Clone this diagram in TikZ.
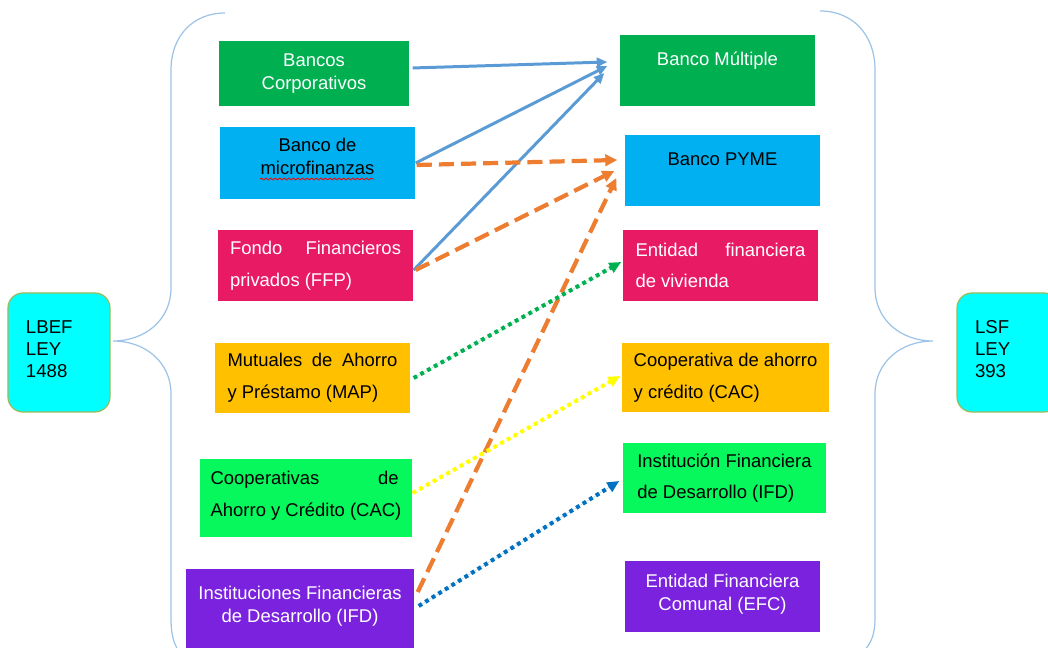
\documentclass[tikz,border=0pt]{standalone}
\usepackage{fontspec}
\setmainfont{Liberation Sans}
\usepackage{xcolor}
\usepackage{tikz}
\usetikzlibrary{shapes,positioning,arrows.meta,decorations.pathmorphing}
\definecolor{cverde}{HTML}{00B050}
\definecolor{cceleste}{HTML}{00B0F0}
\definecolor{crosa}{HTML}{E91A64}
\definecolor{cnaranja}{HTML}{FFC000}
\definecolor{cverdeclaro}{HTML}{06F85C}
\definecolor{cmorado}{HTML}{7B22DE}
\definecolor{ccian}{HTML}{00FFFF}
\definecolor{cflecha}{HTML}{5B9BD5}
\definecolor{cguion}{HTML}{ED7D31}
\definecolor{cazul}{HTML}{0070C0}
\definecolor{camarillo}{HTML}{FFFF00}
\definecolor{cllave}{HTML}{9DC3E6}
\definecolor{cborde}{HTML}{9BBB59}
\tikzset{blk/.style={rectangle,inner sep=0pt,minimum height=0.71cm,minimum width=1.95cm,font=\fontsize{5.25}{6.5}\selectfont,align=center}}
\tikzset{jst/.style={blk,align=left,font=\fontsize{5.25}{9}\selectfont}}
\tikzset{ley/.style={rectangle,rounded corners=0.15cm,draw=cborde,line width=0.35pt,fill=ccian,inner sep=0pt,minimum width=1.02cm,minimum height=1.19cm,text width=0.66cm,align=left,font=\fontsize{5.3}{6.3}\selectfont}}
\tikzset{llave/.style={draw=cllave,line width=0.35pt}}
\tikzset{ar1/.style={draw=cflecha,line width=0.85pt,-{Triangle[length=3pt,width=2.6pt]}}}
\tikzset{ar2/.style={draw=cguion,line width=1.2pt,dash pattern=on 4.3pt off 2pt,-{Triangle[length=3.4pt,width=3.2pt]}}}
\tikzset{ar3/.style={line width=1.15pt,dash pattern=on 1.1pt off 1.1pt,-{Triangle[length=3.4pt,width=3pt]}}}

\begin{document}
\begin{tikzpicture}
    \useasboundingbox (0,0) rectangle (10.48,-6.48);

    % llaves
    \path[llave] (2.25,-0.13) .. controls (1.93,-0.13) and (1.71,-0.36) .. (1.71,-0.70) -- (1.71,-2.88)
        .. controls (1.71,-3.20) and (1.45,-3.41) .. (1.13,-3.41)
        .. controls (1.45,-3.41) and (1.71,-3.62) .. (1.71,-3.94) -- (1.71,-6.18)
        .. controls (1.71,-6.40) and (1.76,-6.50) .. (1.84,-6.56);
    \path[llave] (8.20,-0.11) .. controls (8.53,-0.11) and (8.75,-0.35) .. (8.75,-0.70) -- (8.75,-2.88)
        .. controls (8.75,-3.20) and (9.01,-3.41) .. (9.33,-3.41)
        .. controls (9.01,-3.41) and (8.75,-3.62) .. (8.75,-3.94) -- (8.75,-6.18)
        .. controls (8.75,-6.36) and (8.70,-6.46) .. (8.62,-6.52);

    % leyes
    \node[ley] (lbef) at (0.59,-3.525) {LBEF\\LEY\\1488\\[-4.3pt]~};
    \node[ley] (lsf) at (10.08,-3.525) {LSF\\LEY\\393\\[-4.3pt]~};

    % entidades LBEF
    \node[blk,fill=cverde,text=white,minimum width=1.90cm,minimum height=0.65cm] (bcorp) at (3.14,-0.735) {Bancos\\Corporativos};
    \node[blk,fill=cceleste,minimum height=0.72cm] (bmicro) at (3.175,-1.63) {Banco de\\microfinanzas\\[-2.5pt]~};
    \node[jst,fill=crosa,text=white] (ffp) at (3.155,-2.655) {\makebox[1.71cm][s]{Fondo Financieros}\\privados (FFP)};
    \node[jst,fill=cnaranja,minimum height=0.70cm] (map) at (3.125,-3.78) {\makebox[1.70cm][s]{Mutuales de Ahorro}\\y Préstamo (MAP)};
    \node[jst,fill=cverdeclaro,minimum width=2.12cm,minimum height=0.78cm] (cac) at (3.06,-4.98) {\makebox[1.88cm][s]{Cooperativas de}\\Ahorro y Crédito (CAC)\\[-6.6pt]~};
    \node[blk,fill=cmorado,text=white,minimum width=2.28cm,minimum height=0.81cm] (ifd) at (3.00,-6.095) {Instituciones Financieras\\de Desarrollo (IFD)\\[-3.7pt]~};
    \draw[red,line width=0.25pt,decorate,decoration={snake,amplitude=0.25pt,segment length=1.3pt}] (2.60,-1.79) -- (3.74,-1.79);

    % entidades LSF
    \node[blk,fill=cverde,text=white] (bmult) at (7.175,-0.705) {Banco Múltiple\\~};
    \node[blk,fill=cceleste] (bpyme) at (7.225,-1.705) {Banco PYME\\~};
    \node[jst,fill=crosa,text=white] (efv) at (7.205,-2.655) {\makebox[1.70cm][s]{Entidad financiera}\\de vivienda};
    \node[jst,fill=cnaranja,minimum width=2.07cm,minimum height=0.69cm] (cacr) at (7.255,-3.775) {Cooperativa de ahorro\\y crédito (CAC)};
    \node[jst,fill=cverdeclaro,minimum width=2.03cm,minimum height=0.70cm] (ifdr) at (7.245,-4.78) {Institución Financiera\\de Desarrollo (IFD)};
    \node[blk,fill=cmorado,text=white] (efc) at (7.225,-5.965) {Entidad Financiera\\Comunal (EFC)\\[-4.2pt]~};

    % conversiones
    \draw[ar1] ([xshift=0.03cm,yshift=0.055cm]bcorp.east) to ([xshift=-0.12cm,yshift=0.085cm]bmult.west);
    \draw[ar1] (bmicro.east) to ([xshift=-0.12cm,yshift=0.045cm]bmult.west);
    \draw[ar1] ([yshift=-0.045cm]ffp.east) to ([xshift=-0.15cm,yshift=-0.025cm]bmult.west);
    \draw[ar2] ([xshift=0.01cm,yshift=-0.02cm]bmicro.east) to ([xshift=-0.07cm,yshift=0.105cm]bpyme.west);
    \draw[ar2] ([xshift=0.02cm,yshift=-0.045cm]ffp.east) to ([xshift=-0.10cm,yshift=-0.005cm]bpyme.west);
    \draw[ar2] ([xshift=0.03cm,yshift=0.175cm]ifd.east) to ([xshift=-0.08cm,yshift=-0.075cm]bpyme.west);
    \draw[ar3,draw=cverde,fill=cverde] ([xshift=0.03cm]map.east) to ([xshift=-0.01cm,yshift=0.035cm]efv.west);
    \draw[ar3,draw=camarillo,fill=camarillo] ([yshift=0.05cm]cac.east) to ([xshift=-0.01cm,yshift=0.015cm]cacr.west);
    \draw[ar3,draw=cazul,fill=cazul] ([xshift=0.04cm,yshift=0.035cm]ifd.east) to ([xshift=-0.03cm,yshift=-0.03cm]ifdr.west);
\end{tikzpicture}
\end{document}
